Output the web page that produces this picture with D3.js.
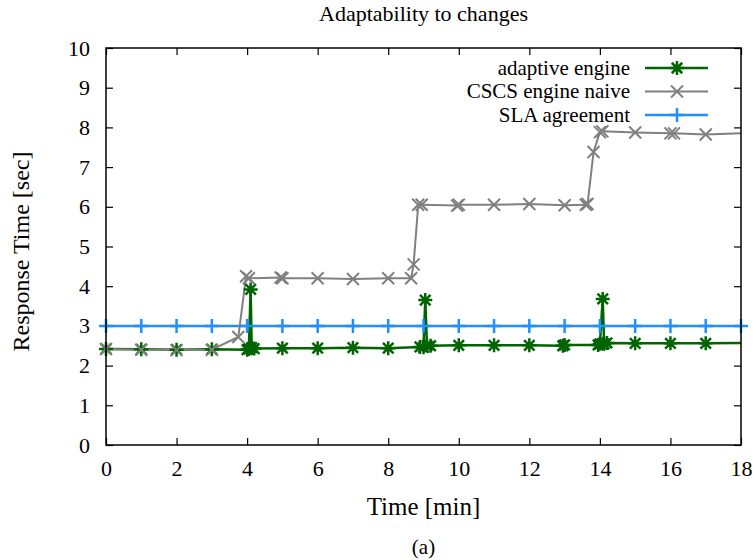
<!DOCTYPE html>
<html>
<head>
<meta charset="utf-8">
<script src="https://cdn.jsdelivr.net/npm/d3@7"></script>
<style>
  body { margin: 0; background: #fff; }
  svg text { font-family: "Liberation Serif", "Times New Roman", Times, serif; fill: #000; }
</style>
</head>
<body>
<div id="chart"></div>
<script>
// time [min] and response time [sec]
var adaptiveTime = [0, 1, 2, 3, 4.0, 4.05, 4.1, 4.13, 4.2, 5, 6, 7, 8, 8.9, 9.0, 9.05, 9.1, 9.2, 10, 11, 12, 12.95, 13.0, 13.95, 14.0, 14.08, 14.12, 14.2, 15, 16, 17, 18.5];
var adaptiveResp = [2.42, 2.41, 2.40, 2.41, 2.40, 2.42, 3.92, 2.45, 2.43, 2.44, 2.44, 2.45, 2.44, 2.47, 2.46, 3.65, 2.50, 2.50, 2.51, 2.51, 2.51, 2.50, 2.52, 2.52, 2.55, 3.68, 2.55, 2.57, 2.56, 2.56, 2.56, 2.57];

var naiveTime = [0, 1, 2, 3, 3.75, 3.97, 4.05, 4.95, 5.0, 6, 7, 8, 8.65, 8.72, 8.85, 8.95, 9.95, 10.0, 11, 12, 13, 13.6, 13.65, 13.82, 14.0, 14.07, 15, 16, 16.1, 17, 18.5];
var naiveResp = [2.42, 2.40, 2.39, 2.40, 2.72, 4.25, 4.20, 4.22, 4.20, 4.20, 4.18, 4.20, 4.20, 4.55, 6.05, 6.05, 6.03, 6.05, 6.05, 6.07, 6.04, 6.05, 6.07, 7.38, 7.88, 7.90, 7.87, 7.85, 7.85, 7.82, 7.87];

var slaTime = [0, 1, 2, 3, 4, 5, 6, 7, 8, 9, 10, 11, 12, 13, 14, 15, 16, 17, 18];
var slaResp = [3, 3, 3, 3, 3, 3, 3, 3, 3, 3, 3, 3, 3, 3, 3, 3, 3, 3, 3];

var xTicks = [0, 2, 4, 6, 8, 10, 12, 14, 16, 18];
var yTicks = [0, 1, 2, 3, 4, 5, 6, 7, 8, 9, 10];

var seriesNames = ["adaptive engine", "CSCS engine naive", "SLA agreement"];

var svgwidth = 754, svgheight = 560;
var margin = {top: 48, right: 13, bottom: 115, left: 106},
    width = svgwidth - margin.left - margin.right,
    height = svgheight - margin.top - margin.bottom;

var x = d3.scaleLinear().domain([0, 18]).range([0, width]);
var y = d3.scaleLinear().domain([0, 10]).range([height, 0]);

var svg = d3.select("#chart").append("svg")
    .attr("width", svgwidth)
    .attr("height", svgheight)
  .append("g")
    .attr("transform", "translate(" + margin.left + "," + margin.top + ")");

svg.append("defs").append("clipPath").attr("id", "clip")
  .append("rect").attr("width", width).attr("height", height);

// marker shapes
function plusPath(s) { return "M" + (-s) + ",0H" + s + "M0," + (-s) + "V" + s; }
function crossPath(s) { return "M" + (-s) + "," + (-s) + "L" + s + "," + s + "M" + (-s) + "," + s + "L" + s + "," + (-s); }
function starPath(s) { return plusPath(s) + crossPath(s * 0.75); }

var series = [
  {name: seriesNames[2], t: slaTime, v: slaResp, color: "#1e90ff", lw: 2.5, marker: plusPath(7)},
  {name: seriesNames[0], t: adaptiveTime, v: adaptiveResp, color: "#006400", lw: 2.5, marker: starPath(7)},
  {name: seriesNames[1], t: naiveTime, v: naiveResp, color: "#808080", lw: 2, marker: crossPath(6)}
];

var line = d3.line()
    .x(function(d) { return x(d[0]); })
    .y(function(d) { return y(d[1]); });

// ticks, inside the box and mirrored like gnuplot
var xAxis = d3.axisBottom(x).tickValues(xTicks).tickSize(-7).tickPadding(15).tickFormat(d3.format("d"));
var yAxis = d3.axisLeft(y).tickValues(yTicks).tickSize(-7).tickPadding(16).tickFormat(d3.format("d"));

svg.append("g")
    .attr("class", "x axis")
    .attr("transform", "translate(0," + height + ")")
    .call(xAxis);
svg.append("g")
    .attr("class", "y axis")
    .call(yAxis);
svg.append("g")
    .call(d3.axisTop(x).tickValues(xTicks).tickSize(-7).tickFormat(""));
svg.append("g")
    .attr("transform", "translate(" + width + ",0)")
    .call(d3.axisRight(y).tickValues(yTicks).tickSize(-7).tickFormat(""));

svg.selectAll(".domain").remove();
svg.selectAll(".tick line").attr("stroke", "#000").attr("stroke-width", 1.2);
svg.selectAll("g").attr("font-family", null);
svg.selectAll(".tick text").style("font-size", "22px");

var plot = svg.append("g").attr("clip-path", "url(#clip)");

series.forEach(function(s) {
  var pts = s.t.map(function(t, i) { return [t, s.v[i]]; });
  plot.append("path")
      .datum(pts)
      .attr("fill", "none")
      .attr("stroke", s.color)
      .attr("stroke-width", s.lw)
      .attr("stroke-linejoin", "round")
      .attr("d", line);
  svg.selectAll(null)
      .data(pts.filter(function(d) { return d[0] <= 18; }))
    .enter().append("path")
      .attr("transform", function(d) { return "translate(" + x(d[0]) + "," + y(d[1]) + ")"; })
      .attr("d", s.marker)
      .attr("fill", "none")
      .attr("stroke", s.color)
      .attr("stroke-width", s.lw);
});

// border
svg.append("rect")
    .attr("width", width)
    .attr("height", height)
    .attr("fill", "none")
    .attr("stroke", "#000")
    .attr("stroke-width", 1.5);

// legend
var legendOrder = [series[1], series[2], series[0]];
var legend = svg.selectAll(".legend")
    .data(legendOrder)
  .enter().append("g")
    .attr("class", "legend")
    .attr("transform", function(d, i) { return "translate(0," + (20 + i * 23.5) + ")"; });
legend.append("text")
    .attr("x", 524)
    .attr("dy", "0.33em")
    .style("text-anchor", "end")
    .style("font-size", "21px")
    .text(function(d) { return d.name; });
legend.append("line")
    .attr("x1", 539).attr("x2", 602)
    .attr("stroke", function(d) { return d.color; })
    .attr("stroke-width", function(d) { return d.lw; });
legend.append("path")
    .attr("transform", "translate(571,0)")
    .attr("d", function(d) { return d.marker; })
    .attr("fill", "none")
    .attr("stroke", function(d) { return d.color; })
    .attr("stroke-width", function(d) { return d.lw; });

// titles
svg.append("text")
    .attr("x", width / 2)
    .attr("y", -27)
    .style("text-anchor", "middle")
    .style("font-size", "22px")
    .text("Adaptability to changes");

svg.append("text")
    .attr("x", width / 2)
    .attr("y", height + 70)
    .style("text-anchor", "middle")
    .style("font-size", "25px")
    .text("Time [min]");

svg.append("text")
    .attr("transform", "rotate(-90)")
    .attr("x", -height / 2 - 5)
    .attr("y", -77)
    .style("text-anchor", "middle")
    .style("font-size", "24px")
    .text("Response Time [sec]");

svg.append("text")
    .attr("x", width / 2)
    .attr("y", height + 109)
    .style("text-anchor", "middle")
    .style("font-size", "21px")
    .text("(a)");
</script>
</body>
</html>
